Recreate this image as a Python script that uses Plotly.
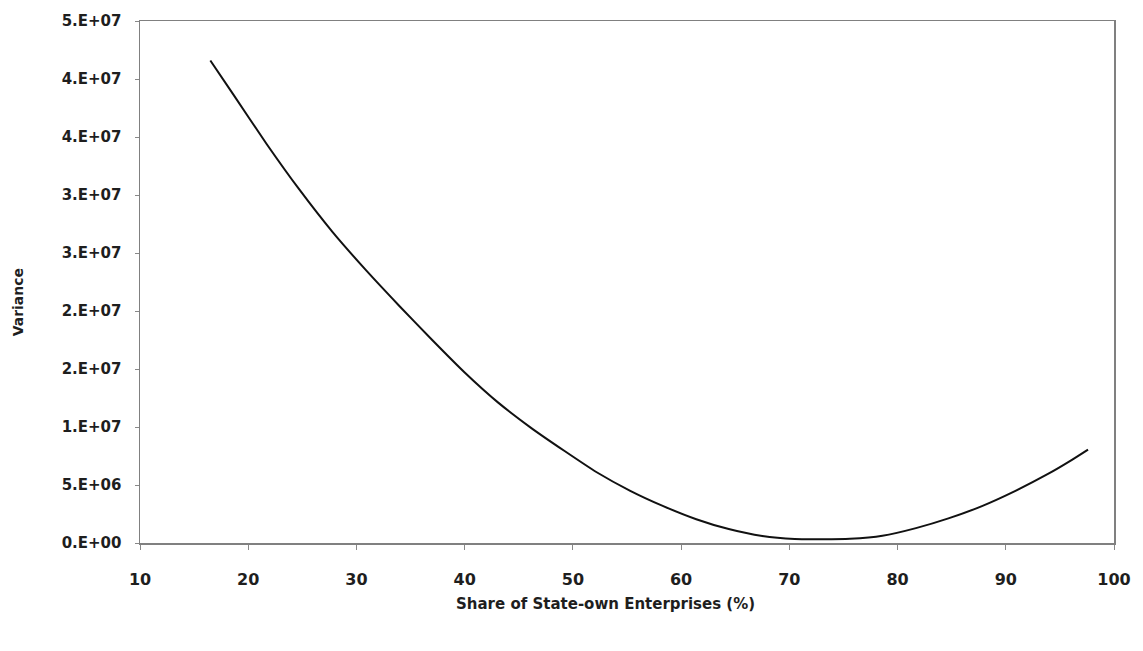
import plotly.graph_objects as go

# Data (share of SOEs in %, variance)
share_soe = [16.5, 18.6, 21.7, 24.7, 27.8, 30.9, 33.9, 37.0, 40.0, 43.1,
             46.1, 49.2, 52.2, 55.3, 58.3, 61.4, 64.4, 67.5, 70.5, 73.0,
             75.6, 78.6, 81.7, 84.7, 87.8, 90.8, 93.9, 96.0, 97.6]
variance = [4.16e7, 3.87e7, 3.44e7, 3.05e7, 2.68e7, 2.35e7, 2.05e7, 1.75e7, 1.47e7, 1.21e7,
            9.95e6, 7.95e6, 6.1e6, 4.5e6, 3.2e6, 2.05e6, 1.2e6, 6.0e5, 3.4e5, 3.2e5,
            3.6e5, 6.2e5, 1.28e6, 2.12e6, 3.18e6, 4.45e6, 5.95e6, 7.1e6, 8.05e6]

y_tickvals = [0, 5e6, 1e7, 1.5e7, 2e7, 2.5e7, 3e7, 3.5e7, 4e7, 4.5e7]
y_ticktext = ["0.E+00", "5.E+06", "1.E+07", "2.E+07", "2.E+07",
              "3.E+07", "3.E+07", "4.E+07", "4.E+07", "5.E+07"]
x_tickvals = [10, 20, 30, 40, 50, 60, 70, 80, 90, 100]

x_title = "Share of State-own Enterprises (%)"
y_title = "Variance"

font_family = "DejaVu Sans, Verdana, sans-serif"
text_color = "#1e1e1e"

fig = go.Figure()
fig.add_trace(go.Scatter(
    x=share_soe, y=variance, mode="lines",
    line=dict(color="#111111", width=2, shape="spline", smoothing=0.5),
    showlegend=False, hoverinfo="skip"))

fig.update_layout(
    width=1143, height=651,
    margin=dict(l=140, r=25, t=14, b=108),
    paper_bgcolor="white", plot_bgcolor="white",
    font=dict(family=font_family, size=15, color=text_color),
    xaxis=dict(
        range=[10, 100], tickvals=x_tickvals,
        ticks="outside", ticklen=5, tickcolor="#888888",
        showline=True, linecolor="#808080", linewidth=1.5, mirror=True,
        showgrid=False, zeroline=False, ticklabelstandoff=16,
        tickfont=dict(family=font_family, size=16, color=text_color, weight="bold"),
    ),
    yaxis=dict(
        range=[0, 4.5e7], tickvals=y_tickvals, ticktext=y_ticktext,
        ticks="outside", ticklen=4, tickcolor="#888888",
        showline=True, linecolor="#808080", linewidth=1.5, mirror=True,
        showgrid=False, zeroline=False, ticklabelstandoff=10,
        tickfont=dict(family=font_family, size=15, color=text_color, weight="bold"),
    ),
    annotations=[
        dict(text=x_title, xref="paper", yref="paper", x=0.4775, y=0,
             xanchor="center", yanchor="middle", yshift=-61, showarrow=False,
             font=dict(family=font_family, size=15, color=text_color, weight="bold")),
        dict(text=y_title, xref="paper", yref="paper", x=0, y=0.461,
             xanchor="center", yanchor="middle", xshift=-122, textangle=-90,
             showarrow=False,
             font=dict(family=font_family, size=14, color=text_color, weight="bold")),
    ],
)

# remove the default page margin so the 1143x651 figure fills the window exactly
fig.write_html("out.html",
               config={"displayModeBar": False, "staticPlot": True},
               post_script="document.body.style.margin='0';document.body.style.overflow='hidden';")
